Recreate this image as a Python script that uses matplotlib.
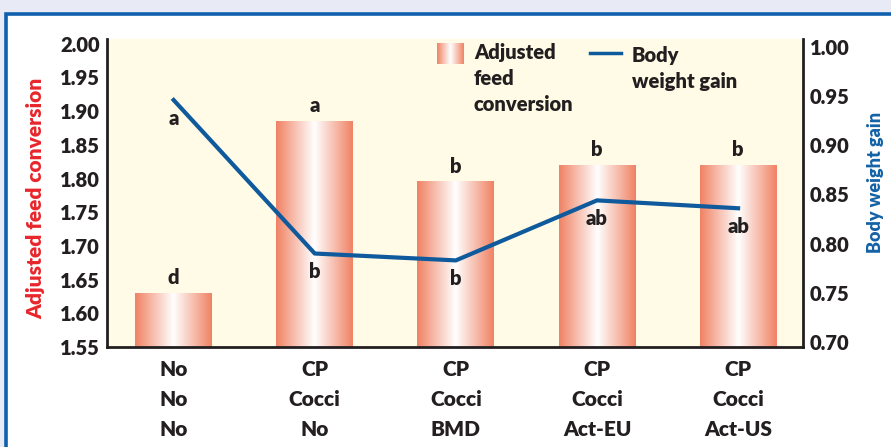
import numpy as np
import matplotlib
matplotlib.use("Agg")
import matplotlib.pyplot as plt
from matplotlib.colors import LinearSegmentedColormap
from matplotlib.patches import Rectangle
from matplotlib.lines import Line2D

# data
treatments = ["No\nNo\nNo", "CP\nCocci\nNo", "CP\nCocci\nBMD", "CP\nCocci\nAct-EU", "CP\nCocci\nAct-US"]
feed_conversion = [1.63, 1.885, 1.795, 1.82, 1.82]
weight_gain = [0.946, 0.790, 0.783, 0.844, 0.836]
fc_letters = ["d", "a", "b", "b", "b"]
wg_letters = ["a", "b", "b", "ab", "ab"]
fc_ticks = [1.55, 1.60, 1.65, 1.70, 1.75, 1.80, 1.85, 1.90, 1.95, 2.00]
wg_ticks = [0.70, 0.75, 0.80, 0.85, 0.90, 0.95, 1.00]

W, H = 891, 447
FONT = "Lato"
DARK = "#231f20"
RED = "#e8262c"
BLUE = "#1462a6"
LINE = "#0f5a9c"
SALMON = "#f08264"

plt.rcParams["font.family"] = [FONT, "DejaVu Sans"]
plt.rcParams["font.weight"] = "heavy"

def fx(x):
    return x / W

def fy(y):
    return (H - y) / H

fig = plt.figure(figsize=(W / 100, H / 100), dpi=100)
fig.patch.set_facecolor("#e8ebf5")

# white panel with blue border (continues past right/bottom edge)
panel = Rectangle((fx(5.5), fy(H + 20)), 1.2, fy(14) - fy(H + 20),
                  transform=fig.transFigure, facecolor="white",
                  edgecolor="#1060ae", linewidth=2.6, zorder=-5)
fig.patches.append(panel)

grad_cmap = LinearSegmentedColormap.from_list("bar", [SALMON, "#ffffff", SALMON])
grad = np.linspace(0, 1, 256).reshape(1, -1)

ax = fig.add_axes([fx(107), fy(347), fx(803) - fx(107), fy(39) - fy(347)])
ax.set_facecolor("#fffbe6")
x = np.arange(len(treatments))
bw = 0.545
for xi, v in zip(x, feed_conversion):
    ax.imshow(grad, cmap=grad_cmap, extent=[xi - bw / 2, xi + bw / 2, 1.55, v],
              aspect="auto", zorder=2, interpolation="bicubic")
for xi, v, t in zip(x, feed_conversion, fc_letters):
    ax.annotate(t, (xi, v), xytext=(0, 11), textcoords="offset points",
                ha="center", va="center", fontsize=14.5, color=DARK, fontweight="heavy")

ax.set_xlim(-0.472, 4.46)
ax.set_ylim(1.55, 2.007)
ax.set_yticks(fc_ticks)
ax.set_yticklabels([f"{t:.2f}" for t in fc_ticks])
ax.set_xticks(x)
ax.set_xticklabels(treatments, linespacing=1.7)
ax.tick_params(axis="y", length=0, pad=5, labelsize=14.5, labelcolor=DARK)
ax.tick_params(axis="x", length=0, pad=9, labelsize=15, labelcolor=DARK)
for lab in ax.get_xticklabels() + ax.get_yticklabels():
    lab.set_fontweight("heavy")
ax.spines["top"].set_visible(False)
ax.spines["right"].set_visible(False)
for s in ("left", "bottom"):
    ax.spines[s].set_linewidth(2.0)
    ax.spines[s].set_color(DARK)

ax2 = ax.twinx()
ax2.plot(x, weight_gain, color=LINE, linewidth=3, zorder=3)
for xi, v, t in zip(x, weight_gain, wg_letters):
    ax2.annotate(t, (xi, v), xytext=(0, -13), textcoords="offset points",
                 ha="center", va="center", fontsize=14.5, color=DARK, fontweight="heavy")
ax2.set_ylim(0.695, 1.008)
ax2.set_yticks(wg_ticks)
ax2.set_yticklabels([f"{t:.2f}" for t in wg_ticks])
ax2.tick_params(axis="y", length=0, pad=5, labelsize=14.5, labelcolor=DARK)
for lab in ax2.get_yticklabels():
    lab.set_fontweight("heavy")
for s in ("top", "left", "bottom"):
    ax2.spines[s].set_visible(False)
ax2.spines["right"].set_linewidth(2.0)
ax2.spines["right"].set_color(DARK)

# axis titles
fig.text(fx(36), fy(198), "Adjusted feed conversion", rotation=90, ha="center", va="center",
         fontsize=15, color=RED, fontweight="heavy")
fig.text(fx(876), fy(182), "Body weight gain", rotation=90, ha="center", va="center",
         fontsize=13, color=BLUE, fontweight="heavy")

# legend
lax = fig.add_axes([fx(437), fy(64), fx(464) - fx(437), fy(43) - fy(64)])
lax.imshow(grad, cmap=grad_cmap, aspect="auto", interpolation="bicubic")
lax.axis("off")
fig.text(fx(474), fy(43), "Adjusted\nfeed\nconversion", ha="left", va="top",
         fontsize=14.5, color=DARK, fontweight="heavy", linespacing=1.45)
fig.lines.append(Line2D([fx(590), fx(621)], [fy(53), fy(53)], transform=fig.transFigure,
                        color=LINE, linewidth=2.5))
fig.text(fx(632), fy(46), "Body\nweight gain", ha="left", va="top",
         fontsize=14.5, color=DARK, fontweight="heavy", linespacing=1.45)

fig.savefig("out.png", dpi=100)
